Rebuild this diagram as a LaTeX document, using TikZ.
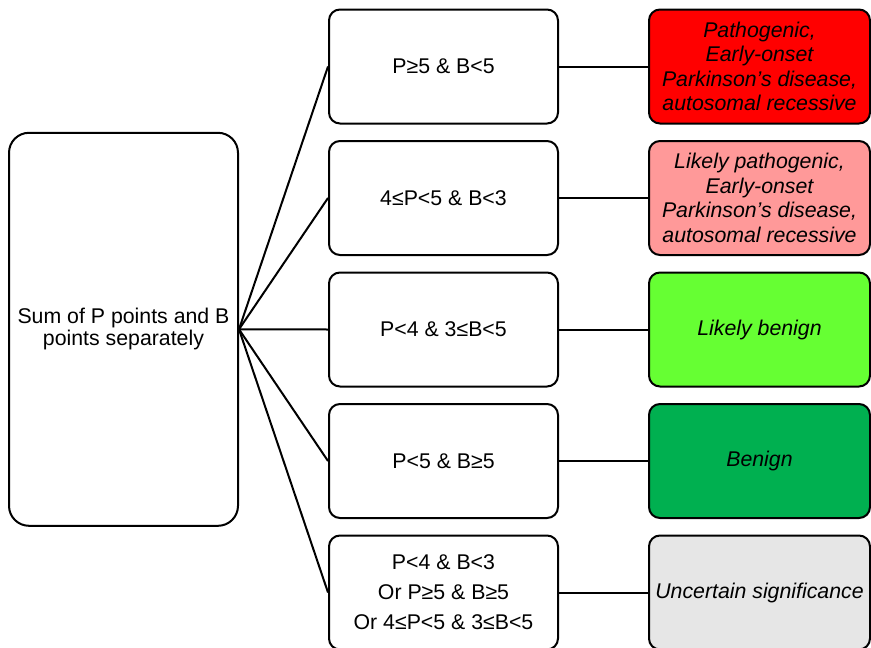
\documentclass[tikz,border=0pt]{standalone}
\usepackage{fontspec}
\setmainfont{Liberation Sans}
\definecolor{pathred}{RGB}{255,0,0}
\definecolor{likelypathred}{RGB}{255,153,153}
\definecolor{likelybenigngreen}{RGB}{102,255,51}
\definecolor{benigngreen}{RGB}{0,176,80}
\definecolor{uncertaingray}{RGB}{230,230,230}
\tikzset{
  sumbox/.style={draw, line width=2pt, rounded corners=20pt, inner sep=0pt,
    minimum width=229pt, minimum height=393pt, align=center,
    font=\fontsize{21.3}{22}\selectfont},
  rulebox/.style={draw, line width=2pt, rounded corners=11pt, inner sep=0pt,
    minimum width=229pt, minimum height=114pt, align=center,
    font=\fontsize{21.3}{24.5}\selectfont},
  classbox/.style={draw, line width=2pt, rounded corners=11pt, inner sep=0pt,
    minimum width=221pt, minimum height=114pt, align=center,
    font=\fontsize{21.3}{24.5}\selectfont\itshape},
  link/.style={line width=2pt}
}
\begin{document}
\begin{tikzpicture}[x=1pt,y=-1pt]
			%%%%% START %%%%%
			\useasboundingbox (0,0) rectangle (871,648);

			\node[sumbox] (sum) at (123.5,329.3) {Sum of P points and B\\points separately};

			\node[rulebox] (rule1) at (443.5,66.5) {P≥5 \& B<5};
			\node[rulebox] (rule2) at (443.5,198) {4≤P<5 \& B<3};
			\node[rulebox] (rule3) at (443.5,329.5) {P<4 \& 3≤B<5};
			\node[rulebox] (rule4) at (443.5,461) {P<5 \& B≥5};
			\node[rulebox, font=\fontsize{21.3}{30}\selectfont] (rule5) at (443.5,592.5)
				{P<4 \& B<3\\Or P≥5 \& B≥5\\Or 4≤P<5 \& 3≤B<5};

			\node[classbox, fill=pathred] (class1) at (759.5,66.5)
				{Pathogenic,\\Early-onset\\Parkinson’s disease,\\autosomal recessive};
			\node[classbox, fill=likelypathred] (class2) at (759.5,198)
				{Likely pathogenic,\\Early-onset\\Parkinson’s disease,\\autosomal recessive};
			\node[classbox, fill=likelybenigngreen] (class3) at (759.5,329.5) {Likely benign};
			\node[classbox, fill=benigngreen] (class4) at (759.5,461) {Benign};
			\node[classbox, fill=uncertaingray] (class5) at (759.5,592.5) {Uncertain significance};

			\foreach \i in {1,...,5} {
				\draw[link] (sum.east) -- (rule\i.west);
				\draw[link] (rule\i.east) -- (class\i.west);
			}
			%%%%% END %%%%%
\end{tikzpicture}
\end{document}
